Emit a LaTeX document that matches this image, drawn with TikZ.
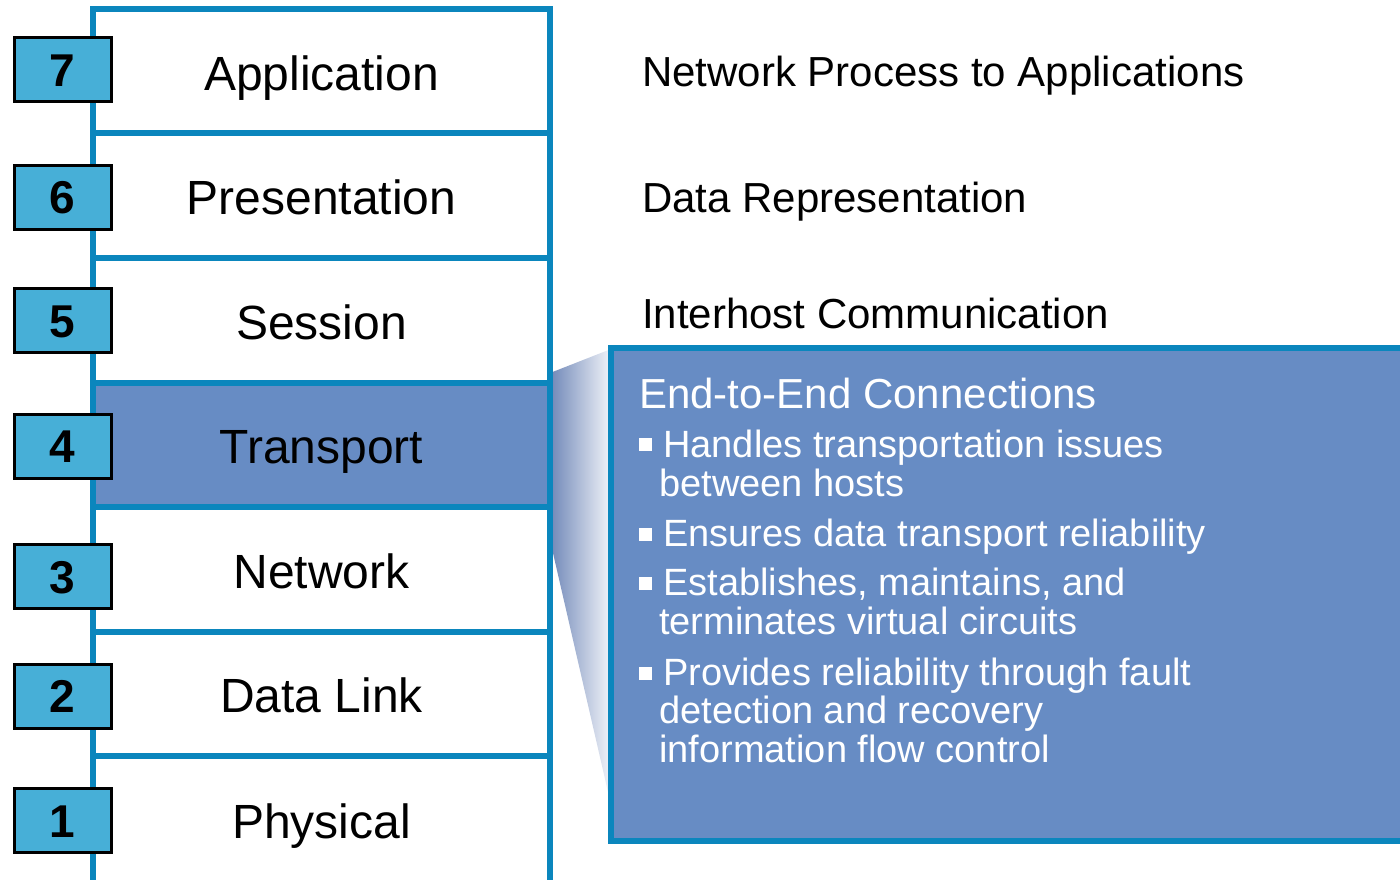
\documentclass[tikz,border=0pt]{standalone}
\usepackage{fontspec}
\setmainfont{Liberation Sans}
\usepackage{tikz}
\definecolor{osiblue}{HTML}{0B86BD}
\definecolor{numfill}{HTML}{47AFD7}
\definecolor{layerfill}{HTML}{678CC4}
\definecolor{wedgedark}{HTML}{7088B8}
\definecolor{wedgelight}{HTML}{F2F4F9}

\begin{document}
\begin{tikzpicture}
[every node/.style={inner sep=0pt},
 layer/.style={rectangle, minimum width=457pt, minimum height=124.5pt, line width=6pt, draw=osiblue, fill=white, text height=38pt, text depth=0pt, font=\fontsize{48}{50}\selectfont},
 numbox/.style={rectangle, minimum width=97pt, minimum height=64pt, line width=3pt, draw=black, fill=numfill, text height=33pt, text depth=0pt, font=\fontsize{46}{48}\selectfont\bfseries},
 duty/.style={anchor=base west, font=\fontsize{42}{44}\selectfont},
 itemline/.style={anchor=base west, text=white, font=\fontsize{38}{40}\selectfont},
 itembullet/.style={rectangle, minimum size=13pt, fill=white}]
\useasboundingbox (0pt, 0pt) rectangle (1400pt, -880pt);
% wedge from transport layer to detail box
\shade [left color=wedgedark, right color=wedgelight] (550pt, -373pt) -- (611pt, -349pt) -- (611pt, -805pt) -- (550pt, -540pt) -- cycle;
% layers
\node (application) [layer] at (321.5pt, -71.25pt) {Application};
\node (presentation) [layer] at (321.5pt, -195.75pt) {Presentation};
\node (session) [layer] at (321.5pt, -320.25pt) {Session};
\node (transport) [layer, fill=layerfill] at (321.5pt, -444.75pt) {Transport};
\node (network) [layer] at (321.5pt, -569.25pt) {Network};
\node (datalink) [layer] at (321.5pt, -693.75pt) {Data Link};
\node (physical) [layer, minimum height=136pt, text height=28pt] at (321.5pt, -824pt) {Physical};
% layer numbers
\node (n7) [numbox] at (62.5pt, -70pt) {7};
\node (n6) [numbox] at (62.5pt, -197pt) {6};
\node (n5) [numbox] at (62.5pt, -320.5pt) {5};
\node (n4) [numbox] at (62.5pt, -446pt) {4};
\node (n3) [numbox] at (62.5pt, -576.5pt) {3};
\node (n2) [numbox] at (62.5pt, -696pt) {2};
\node (n1) [numbox] at (62.5pt, -820.5pt) {1};
% duties
\node (duty7) [duty] at (642pt, -87pt) {Network Process to Applications};
\node (duty6) [duty] at (642pt, -212pt) {Data Representation};
\node (duty5) [duty] at (642pt, -328pt) {Interhost Communication};
% transport detail
\node (detail) [rectangle, anchor=north west, outer sep=0pt, minimum width=830pt, minimum height=493pt, line width=6pt, draw=osiblue, fill=layerfill] at (611pt, -348pt) {};
\node (heading) [itemline, font=\fontsize{42}{44}\selectfont] at (639pt, -408pt) {End-to-End Connections};
\node (b1) [itembullet] at (645.5pt, -444pt) {};
\node (i1a) [itemline] at (663pt, -457pt) {Handles transportation issues};
\node (i1b) [itemline] at (659pt, -496pt) {between hosts};
\node (b2) [itembullet] at (645.5pt, -534pt) {};
\node (i2a) [itemline] at (663pt, -546pt) {Ensures data transport reliability};
\node (b3) [itembullet] at (645.5pt, -583pt) {};
\node (i3a) [itemline] at (663pt, -595pt) {Establishes, maintains, and};
\node (i3b) [itemline] at (659pt, -634pt) {terminates virtual circuits};
\node (b4) [itembullet] at (645.5pt, -673pt) {};
\node (i4a) [itemline] at (663pt, -685pt) {Provides reliability through fault};
\node (i4b) [itemline] at (659pt, -723pt) {detection and recovery};
\node (i4c) [itemline] at (659pt, -762pt) {information flow control};
\end{tikzpicture}
\end{document}
